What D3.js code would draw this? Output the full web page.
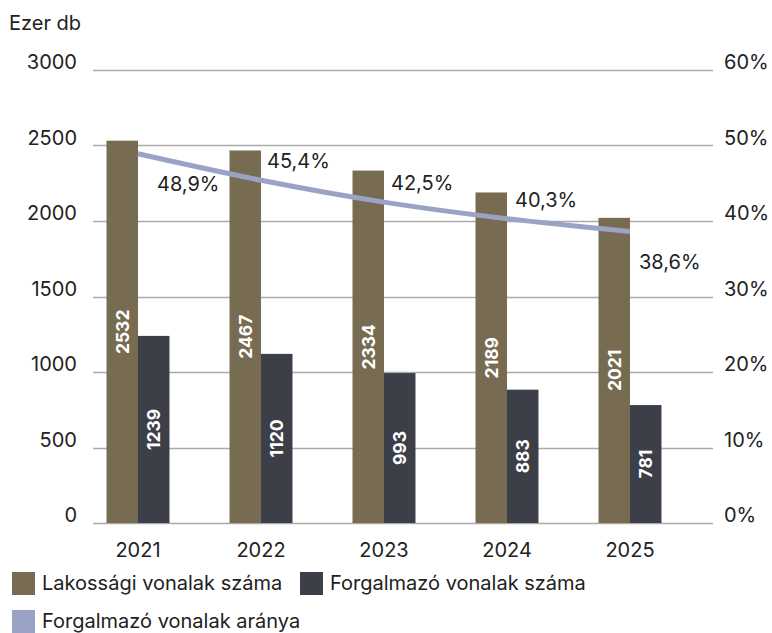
<!DOCTYPE html>
<html>
<head>
<meta charset="utf-8">
<script src="https://cdn.jsdelivr.net/npm/d3@7"></script>
<style>
  body { margin: 0; background: #fff; }
  svg text { font-family: Inter, "Liberation Sans", Arial, sans-serif; fill: #222; }
</style>
</head>
<body>
<div id="chart"></div>
<script>
// data
var years = ["2021", "2022", "2023", "2024", "2025"];
var lakossagi = [2532, 2467, 2334, 2189, 2021];
var forgalmazo = [1239, 1120, 993, 883, 781];
var arany = [48.9, 45.4, 42.5, 40.3, 38.6];
var leftTicks = [0, 500, 1000, 1500, 2000, 2500, 3000];
var rightTicks = [0, 10, 20, 30, 40, 50, 60];

var colLak = "#776b51", colForg = "#3c3f48", colLine = "#9aa3c5", colGrid = "#aaaaaa";

var width = 772, height = 633;
var gridLeft = 93, gridRight = 713;
var fs = "20px";

var svg = d3.select("#chart").append("svg")
    .attr("width", width)
    .attr("height", height);

var y = d3.scaleLinear().domain([0, 3000]).range([523, 70]);
var yr = d3.scaleLinear().domain([0, 60]).range([523, 70]);

var x = d3.scaleBand()
    .domain(years)
    .range([76.5, 691.5])
    .paddingInner(0.488)
    .paddingOuter(0.244);

var sub = d3.scaleBand()
    .domain(["lak", "forg"])
    .range([0, x.bandwidth()]);

// gridlines
svg.append("g")
    .attr("class", "grid")
  .selectAll("line")
    .data(leftTicks)
    .enter()
  .append("line")
    .attr("x1", gridLeft)
    .attr("x2", gridRight)
    .attr("y1", function(d) { return Math.round(y(d)) + 0.5; })
    .attr("y2", function(d) { return Math.round(y(d)) + 0.5; })
    .attr("stroke", colGrid)
    .attr("stroke-width", 1.3);

// left axis labels
svg.append("g")
  .selectAll("text")
    .data(leftTicks)
    .enter()
  .append("text")
    .attr("x", 77)
    .attr("y", function(d) { return y(d); })
    .attr("dy", "-0.05em")
    .attr("text-anchor", "end")
    .style("font-size", fs)
    .text(function(d) { return d; });

// right axis labels
svg.append("g")
  .selectAll("text")
    .data(rightTicks)
    .enter()
  .append("text")
    .attr("x", 724)
    .attr("y", function(d) { return yr(d); })
    .attr("dy", "-0.05em")
    .style("font-size", fs)
    .text(function(d) { return d + "%"; });

svg.append("text")
    .attr("x", 9)
    .attr("y", 30)
    .style("font-size", fs)
    .text("Ezer db");

// bars
var groups = svg.selectAll(".year")
    .data(years)
    .enter()
  .append("g")
    .attr("class", "year")
    .attr("transform", function(d) { return "translate(" + x(d) + ",0)"; });

groups.append("rect")
    .attr("x", sub("lak"))
    .attr("width", sub.bandwidth())
    .attr("y", function(d, i) { return y(lakossagi[i]); })
    .attr("height", function(d, i) { return y(0) - y(lakossagi[i]); })
    .attr("fill", colLak);

groups.append("rect")
    .attr("x", sub("forg"))
    .attr("width", sub.bandwidth())
    .attr("y", function(d, i) { return y(forgalmazo[i]); })
    .attr("height", function(d, i) { return y(0) - y(forgalmazo[i]); })
    .attr("fill", colForg);

function barLabel(key, values) {
    groups.append("text")
        .attr("transform", function(d, i) {
            var cx = sub(key) + sub.bandwidth() / 2;
            var cy = (y(values[i]) + y(0)) / 2;
            return "translate(" + cx + "," + cy + ") rotate(-90)";
        })
        .attr("text-anchor", "middle")
        .attr("dy", "0.36em")
        .style("font-size", "17.5px")
        .style("font-weight", "bold")
        .style("fill", "#fff")
        .text(function(d, i) { return values[i]; });
}
barLabel("lak", lakossagi);
barLabel("forg", forgalmazo);

// ratio line
var cx = function(i) { return x(years[i]) + x.bandwidth() / 2; };
var line = d3.line()
    .x(function(d, i) { return cx(i); })
    .y(function(d) { return yr(d); })
    .curve(d3.curveMonotoneX);

svg.append("path")
    .datum(arany)
    .attr("d", line)
    .attr("fill", "none")
    .attr("stroke", colLine)
    .attr("stroke-width", 5);

// ratio labels: ends below the line, middle ones above
svg.append("g")
  .selectAll("text")
    .data(arany)
    .enter()
  .append("text")
    .attr("x", function(d, i) { return cx(i) + (i == 0 ? 19 : 5 + i); })
    .attr("y", function(d, i) {
        var last = i == 0 || i == arany.length - 1;
        return yr(d) + (last ? 37 : -12);
    })
    .style("font-size", fs)
    .text(function(d) { return String(d).replace(".", ",") + "%"; });

// x labels
svg.append("g")
  .selectAll("text")
    .data(years)
    .enter()
  .append("text")
    .attr("x", function(d) { return x(d) + x.bandwidth() / 2; })
    .attr("y", 557)
    .attr("text-anchor", "middle")
    .style("font-size", fs)
    .text(function(d) { return d; });

// legend
var legend = [
    {label: "Lakossági vonalak száma", color: colLak, x: 12, y: 572},
    {label: "Forgalmazó vonalak száma", color: colForg, x: 300, y: 572},
    {label: "Forgalmazó vonalak aránya", color: colLine, x: 12, y: 610}
];
var lg = svg.selectAll(".legend")
    .data(legend)
    .enter()
  .append("g")
    .attr("class", "legend")
    .attr("transform", function(d) { return "translate(" + d.x + "," + d.y + ")"; });
lg.append("rect")
    .attr("width", 23)
    .attr("height", 23)
    .attr("fill", function(d) { return d.color; });
lg.append("text")
    .attr("x", 30)
    .attr("y", 18)
    .style("font-size", fs)
    .text(function(d) { return d.label; });
</script>
</body>
</html>
